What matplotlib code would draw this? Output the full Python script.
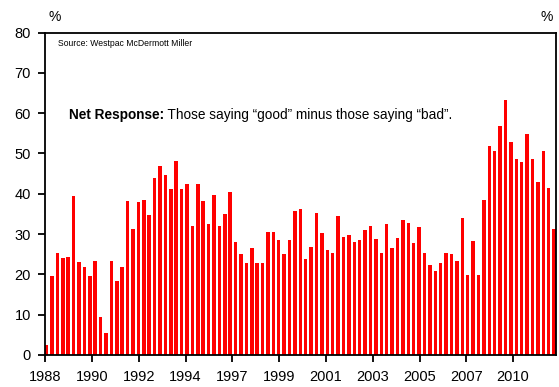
import matplotlib
matplotlib.use("Agg")
import matplotlib.pyplot as plt
import numpy as np

plt.rcParams['font.family'] = ['Liberation Sans', 'DejaVu Sans']

values = [2.4, 19.7, 25.3, 24.0, 24.2, 39.4, 23.0, 21.9, 19.5, 23.2,
          9.4, 5.5, 23.4, 18.4, 21.8, 38.3, 31.3, 37.9, 38.5, 34.7,
          43.9, 46.9, 44.7, 41.1, 48.1, 41.3, 42.5, 32.1, 42.3, 38.2,
          32.6, 39.6, 32.1, 35.1, 40.4, 28.0, 25.1, 22.7, 26.6, 22.8,
          22.8, 30.4, 30.4, 28.5, 25.0, 28.6, 35.8, 36.3, 23.7, 26.7,
          35.3, 30.3, 26.1, 25.2, 34.4, 29.3, 29.7, 28.1, 28.5, 31.1,
          32.0, 28.7, 25.3, 32.6, 26.6, 29.0, 33.5, 32.8, 27.7, 31.7,
          25.3, 22.4, 20.8, 22.7, 25.2, 25.0, 23.4, 34.1, 19.8, 28.2,
          19.9, 38.5, 51.9, 50.7, 56.7, 63.2, 52.8, 48.5, 48.0, 54.8,
          48.5, 42.8, 50.5, 41.5, 31.3]
year_labels = ['1988', '1990', '1992', '1994', '1997', '1999', '2001',
               '2003', '2005', '2007', '2010']
y_ticks = [0, 10, 20, 30, 40, 50, 60, 70, 80]

fig = plt.figure(figsize=(5.59, 3.87), dpi=100)
ax = fig.add_axes([0.0805, 0.0827, 0.9150, 0.8333])

x = np.arange(len(values))
ax.bar(x, values, width=0.65, color='#ff0000', edgecolor='none')

ax.set_xlim(-0.3, 94.45)
ax.set_ylim(0, 80)
ax.set_yticks(y_ticks)
ax.set_yticklabels([str(v) for v in y_ticks])
tick_pos = [-0.25 + k * 26 / 3 for k in range(len(year_labels))]
ax.set_xticks(tick_pos)
ax.set_xticklabels(year_labels)

for s in ax.spines.values():
    s.set_linewidth(1.3)
    s.set_color('black')
ax.tick_params(axis='y', direction='out', length=5, width=1.3, labelsize=10.5, pad=5)
ax.tick_params(axis='x', direction='out', length=5, width=1.3, labelsize=10.5, pad=6)

fig.text(55 / 559, 1 - 17 / 387, '%', fontsize=10, ha='center', va='center')
fig.text(547 / 559, 1 - 17 / 387, '%', fontsize=10, ha='center', va='center')

ax.text(58 / 559, 1 - 44 / 387, 'Source: Westpac McDermott Miller', fontsize=6.2,
        ha='left', va='center', transform=fig.transFigure)

t1 = ax.text(69 / 559, 1 - 115 / 387, 'Net Response:', fontsize=9.8, fontweight='bold',
             ha='left', va='center', transform=fig.transFigure)
fig.canvas.draw()
bb = t1.get_window_extent()
x2 = fig.transFigure.inverted().transform((bb.x1, bb.y0))[0]
ax.text(x2, 1 - 115 / 387, ' Those saying \u201cgood\u201d minus those saying \u201cbad\u201d.',
        fontsize=9.8, ha='left', va='center', transform=fig.transFigure)

fig.savefig('out.png', dpi=100)
